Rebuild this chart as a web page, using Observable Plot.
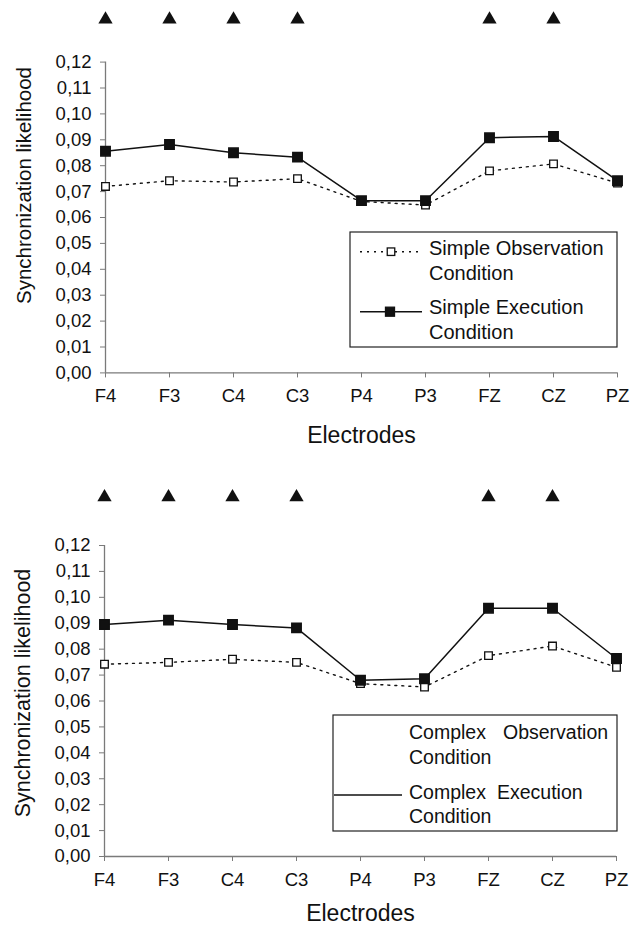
<!DOCTYPE html>
<html><head><meta charset="utf-8">
<script src="https://cdn.jsdelivr.net/npm/d3@7"></script>
<script src="https://cdn.jsdelivr.net/npm/@observablehq/plot@0.6"></script>
<style>body{margin:0;background:#fff;} #chart svg{display:block;}</style>
</head><body><div id="chart"></div>
<script>
const electrodes = ["F4","F3","C4","C3","P4","P3","FZ","CZ","PZ"];
const simpleObs  = [0.0720, 0.0742, 0.0737, 0.0750, 0.0662, 0.0648, 0.0780, 0.0807, 0.0733];
const simpleExe  = [0.0856, 0.0882, 0.0850, 0.0833, 0.0665, 0.0665, 0.0908, 0.0913, 0.0742];
const complexObs = [0.0742, 0.0749, 0.0761, 0.0749, 0.0667, 0.0654, 0.0775, 0.0812, 0.0730];
const complexExe = [0.0895, 0.0912, 0.0895, 0.0882, 0.0680, 0.0686, 0.0958, 0.0958, 0.0764];
const sigSimple  = ["F4","F3","C4","C3","FZ","CZ"];
const sigComplex = ["F4","F3","C4","C3","FZ","CZ"];
const yTicks = [0, 0.01, 0.02, 0.03, 0.04, 0.05, 0.06, 0.07, 0.08, 0.09, 0.10, 0.11, 0.12];
const yTitle = "Synchronization likelihood";
const xTitle = "Electrodes";
const simpleLegend  = [["Simple Observation", "Condition"], ["Simple Execution", "Condition"]];
const complexLegend = [[["Complex", "Observation"], "Condition"], [["Complex", "Execution"], "Condition"]];

const FONT = "'Liberation Sans', Arial, Helvetica, sans-serif";
const INK = "#111";
const AXIS = "#7a7a7a";
const fmt = d => d3.format(".2f")(d).replace(".", ",");

function chart(cfg) {
  const rows = electrodes.map((e, i) => ({e, obs: cfg.obs[i], exe: cfg.exe[i]}));
  return Plot.plot({
    width: 642, height: 465,
    marginTop: cfg.mt, marginBottom: cfg.mb, marginLeft: cfg.ml, marginRight: cfg.mr,
    style: {fontFamily: FONT, fontSize: "18.5px", background: "#fff", color: INK},
    x: {type: "point", domain: electrodes, padding: 0},
    y: {domain: [0, 0.12]},
    marks: [
      Plot.ruleY([0], {stroke: AXIS, strokeWidth: 1.3}),
      Plot.ruleX([electrodes[0]], {stroke: AXIS, strokeWidth: 1.3}),
      Plot.axisX({tickSize: 5, tickPadding: 11, stroke: AXIS, fill: INK, label: null}),
      Plot.axisY({ticks: yTicks, tickSize: 5, tickPadding: 9, tickFormat: fmt, stroke: AXIS, fill: INK, label: null}),
      Plot.line(rows, {x: "e", y: "obs", stroke: INK, strokeWidth: 1.4, strokeDasharray: "2,5"}),
      Plot.line(rows, {x: "e", y: "exe", stroke: INK, strokeWidth: 1.5}),
      Plot.dot(rows, {x: "e", y: "obs", symbol: "square", r: 4.3, fill: "#fff", stroke: INK, strokeWidth: 1.3}),
      Plot.dot(rows, {x: "e", y: "exe", symbol: "square", r: 5.3, fill: INK, stroke: INK}),
      Plot.dot(cfg.sig, {x: d => d, frameAnchor: "top", dy: cfg.triDy, symbol: "triangle", r: 5.3, fill: INK}),
      Plot.text([yTitle], {frameAnchor: "left", textAnchor: "middle", lineAnchor: "middle", dx: -81, dy: cfg.ytDy, rotate: -90, fontSize: cfg.ytFs, fill: INK}),
      Plot.text([xTitle], {frameAnchor: "bottom", textAnchor: "middle", lineAnchor: "middle", dy: cfg.xtDy, fontSize: 23, fill: INK})
    ]
  });
}

function legend(svg, L) {
  const g = d3.select(svg).append("g").attr("font-family", FONT).attr("fill", INK)
    .attr("font-size", L.fs).attr("text-anchor", "start");
  g.append("rect").attr("x", L.box[0]).attr("y", L.box[1]).attr("width", L.box[2]).attr("height", L.box[3])
    .attr("fill", "#fff").attr("stroke", "#222").attr("stroke-width", 1.2);
  L.items.forEach((it, k) => {
    if (it.line) {
      g.append("line").attr("x1", it.line[0]).attr("x2", it.line[1]).attr("y1", it.line[2]).attr("y2", it.line[2])
        .attr("stroke", INK).attr("stroke-width", 1.5).attr("stroke-dasharray", it.dash || null);
    }
    if (it.mark) {
      const s = it.mark[2];
      g.append("rect").attr("x", it.mark[0] - s / 2).attr("y", it.mark[1] - s / 2).attr("width", s).attr("height", s)
        .attr("fill", it.fill).attr("stroke", INK).attr("stroke-width", 1.3);
    }
    L.text[k].forEach((t, j) => {
      const y = it.ty[j];
      if (Array.isArray(t)) {
        const tx = g.append("text").attr("y", y).attr("dy", "0.35em");
        t.forEach((w, m) => tx.append("tspan").attr("x", it.tx[m]).text(w));
      } else {
        g.append("text").attr("x", it.tx[0]).attr("y", y).attr("dy", "0.35em").text(t);
      }
    });
  });
}

const chartTop = chart({obs: simpleObs, exe: simpleExe, sig: sigSimple, mt: 61.6, mb: 92.6, ml: 105, mr: 25, triDy: -42.6, ytDy: -32, ytFs: 20.5, xtDy: 63});
legend(chartTop, {
  fs: 20, box: [350, 232, 267, 115], text: simpleLegend,
  items: [
    {line: [360, 420, 251.7], dash: "2,5", mark: [391, 251.7, 7.5], fill: "#fff", tx: [429], ty: [248, 273]},
    {line: [360, 422, 311.7], mark: [390, 311.7, 9], fill: INK, tx: [429], ty: [307, 332]}
  ]
});
const chartBottom = chart({obs: complexObs, exe: complexExe, sig: sigComplex, mt: 80, mb: 74, ml: 104, mr: 26, triDy: -48.3, ytDy: -8, ytFs: 21.5, xtDy: 57});
legend(chartBottom, {
  fs: 19.5, box: [333, 250, 284, 116], text: complexLegend,
  items: [
    {tx: [409, 503], ty: [266.7, 291.7]},
    {line: [334, 402, 330], tx: [409, 497], ty: [326.7, 351]}
  ]
});
document.getElementById("chart").append(chartTop, chartBottom);
</script>
</body></html>
